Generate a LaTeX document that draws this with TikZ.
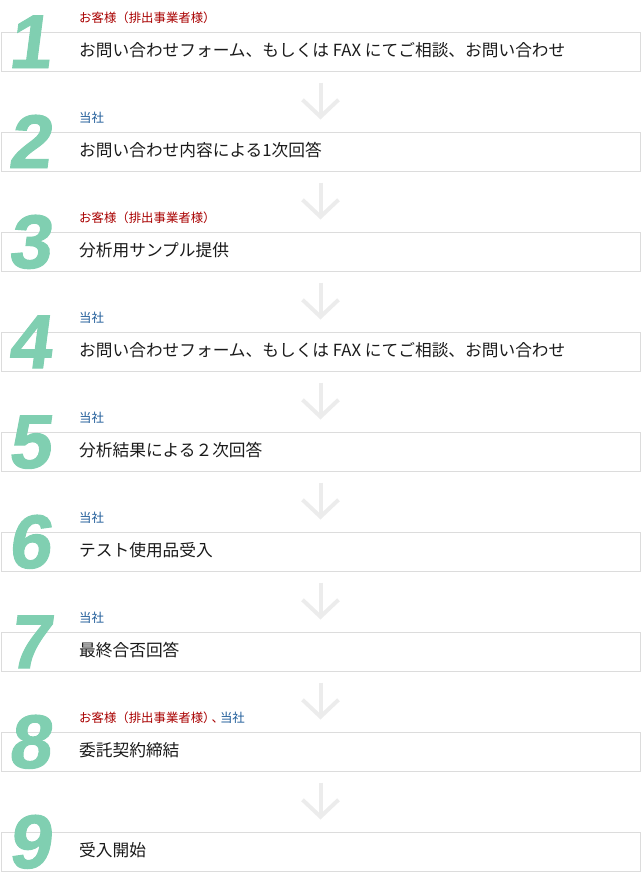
\documentclass[tikz,border=0pt]{standalone}
\usepackage{fontspec}
\newfontfamily\numfont{Liberation Sans}[BoldFeatures={FakeSlant=0.13,FakeBold=1.3}]
\newfontfamily\jp{Noto Sans CJK JP}
\usetikzlibrary{arrows.meta}
\definecolor{numgreen}{HTML}{80CFB1}
\definecolor{lblred}{HTML}{A80000}
\definecolor{lblblue}{HTML}{1F5C99}
\definecolor{boxline}{HTML}{DCDCDC}
\definecolor{arrgray}{HTML}{ECECEC}
\definecolor{txtdark}{HTML}{1A1A1A}
\tikzset{
  stepbox/.style={draw=boxline, line width=1pt, minimum width=639pt, minimum height=39pt, anchor=north west, inner sep=0pt},
  bignum/.style={font=\numfont\bfseries\fontsize{76}{76}\selectfont, text=numgreen, anchor=base, inner sep=0pt},
  lbl/.style={font=\jp\fontsize{12.4}{12.4}\selectfont, anchor=west, inner sep=0pt},
  maintxt/.style={font=\jp\fontsize{16.7}{16.7}\selectfont, text=txtdark, anchor=west, inner sep=0pt},
  flowarrow/.style={draw=arrgray, line width=4pt, shorten <=11pt, shorten >=12pt,
    -{Straight Barb[length=17pt, width=36pt, line width=4pt]}}
}
\begin{document}
\begin{tikzpicture}[x=1pt,y=-1pt]
\useasboundingbox (0,0) rectangle (640,886);
\foreach \i/\lab/\txt in {
  1/{\color{lblred}お客様（排出事業者様）}/{お問い合わせフォーム、もしくは FAX にてご相談、お問い合わせ},
  2/{\color{lblblue}当社}/{お問い合わせ内容による1次回答},
  3/{\color{lblred}お客様（排出事業者様）}/{分析用サンプル提供},
  4/{\color{lblblue}当社}/{お問い合わせフォーム、もしくは FAX にてご相談、お問い合わせ},
  5/{\color{lblblue}当社}/{分析結果による２次回答},
  6/{\color{lblblue}当社}/{テスト使用品受入},
  7/{\color{lblblue}当社}/{最終合否回答},
  8/{\color{lblred}お客様（排出事業者様）\kern-4pt、\kern-4pt\color{lblblue}当社}/{委託契約締結},
  9/{}/{受入開始}}{
  \pgfmathsetmacro{\o}{100*(\i-1)}
  \node[stepbox] (box\i) at (0.5,31.5+\o) {};
  \node[bignum] (num\i) at (29,68+\o) {\i};
  \node[lbl] (lab\i) at (79,18+\o) {\lab};
  \node[maintxt] (txt\i) at (79,50.5+\o) {\txt};
}
\foreach \i [evaluate=\i as \j using int(\i+1)] in {1,...,8}{
  \draw[flowarrow] (box\i.south) -- (box\j.north);
}
\end{tikzpicture}
\end{document}
